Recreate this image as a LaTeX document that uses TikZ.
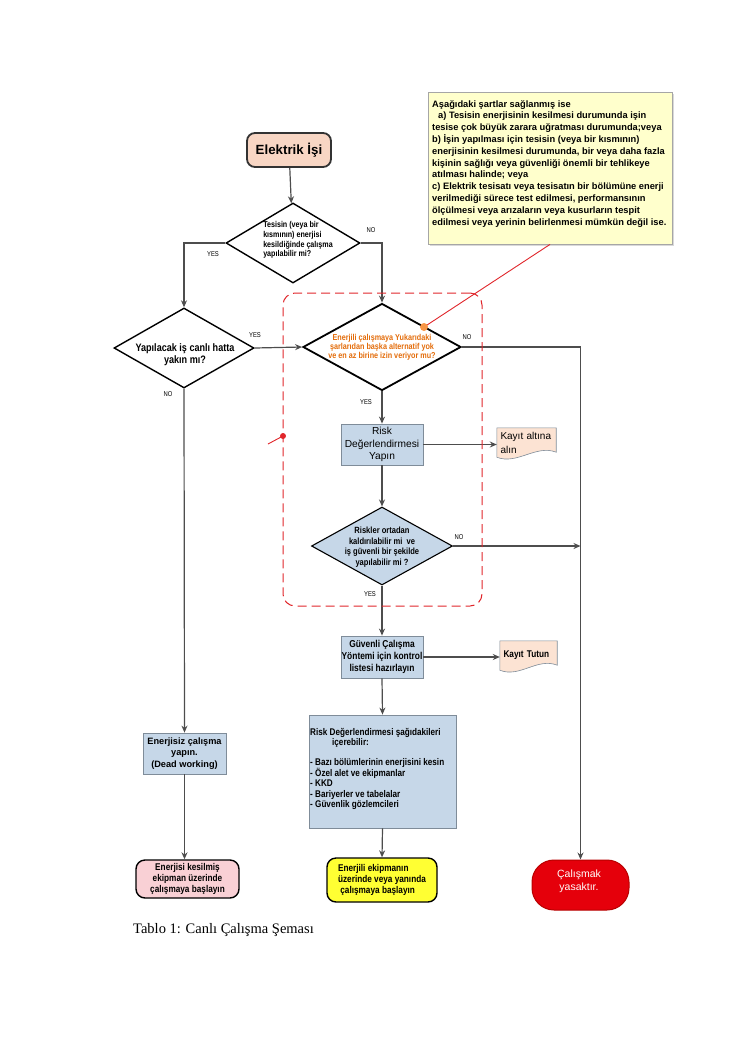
\documentclass[tikz,border=0pt]{standalone}
\usepackage{fontspec}
\setmainfont{Liberation Sans}
\newfontfamily\narrowsf[FakeStretch=0.84]{Liberation Sans}
\newfontfamily\captionfont{Liberation Serif}
\usetikzlibrary{positioning, shapes.geometric, arrows.meta, backgrounds, shadows}
\definecolor{notefill}{HTML}{FFFFCC}
\definecolor{noteline}{HTML}{A6A6A6}
\definecolor{startfill}{HTML}{F8D6C4}
\definecolor{boxblue}{HTML}{C6D7E8}
\definecolor{boxline}{HTML}{7F8C99}
\definecolor{docfill}{HTML}{FCE3D3}
\definecolor{pinkfill}{HTML}{F9D0D5}
\definecolor{yellowfill}{HTML}{FFFF33}
\definecolor{stopred}{HTML}{E5000B}
\definecolor{stopline}{HTML}{B80000}
\definecolor{askorange}{HTML}{E36C0A}
\definecolor{dotorange}{HTML}{F79646}
\definecolor{zonered}{HTML}{E0262B}
\definecolor{flowgrey}{HTML}{4D4D4D}

\begin{document}
\begin{tikzpicture}[x = 1pt, y = -1pt, >={Stealth[length = 7pt, width = 6pt]},
    flow/.style = { ->, draw = flowgrey, line width = 1.2pt },
    bluebox/.style = { draw = boxline, fill = boxblue, line width = .8pt, align = center, inner sep = 0pt },
    decision/.style = { diamond, draw = black, line width = 1.4pt, inner sep = 0pt },
    asktext/.style = { align = center, inner sep = 0pt },
    docbox/.style = { inner xsep = 3.5pt, inner ysep = 0pt, align = left },
    terminal/.style = { draw = black, line width = 1.4pt, rounded corners = 9pt, align = center, inner sep = 0pt },
    answer/.style = { font = \narrowsf\fontsize{7}{8}\selectfont }]
  \useasboundingbox (0, 0) rectangle (744, 1053);

  \node[draw = noteline, fill = notefill, line width = .8pt, minimum width = 244pt, minimum height = 152pt,
    drop shadow={shadow xshift=2pt,shadow yshift=-2pt,opacity=.3}] (note) at (550, 168) {};
  \node[anchor = north west, align = left, inner sep = 0pt, font = \bfseries\fontsize{9.3}{11.8}\selectfont] (notetext) at (432, 100) {Aşağıdaki şartlar sağlanmış ise\\
    \hspace*{6pt}a) Tesisin enerjisinin kesilmesi durumunda işin\\
    tesise çok büyük zarara uğratması durumunda;veya\\
    b) İşin yapılması için tesisin (veya bir kısmının)\\
    enerjisinin kesilmesi durumunda, bir veya daha fazla\\
    kişinin sağlığı veya güvenliği önemli bir tehlikeye\\
    atılması halinde; veya\\
    c) Elektrik tesisatı veya tesisatın bir bölümüne enerji\\
    verilmediği sürece test edilmesi, performansının\\
    ölçülmesi veya arızaların veya kusurların tespit\\
    edilmesi veya yerinin belirlenmesi mümkün değil ise.};

  \node[terminal, fill = startfill, draw = black!80, line width = 1.8pt, rounded corners = 8pt, minimum width = 84pt, minimum height = 34pt, font = \bfseries\fontsize{13.3}{15}\selectfont] (start) at (289, 150) {Elektrik İşi};

  \node[decision, minimum width = 134pt, minimum height = 80pt] (canoff) at (293, 243) {};
  \node[asktext, align = left, font = \narrowsf\bfseries\fontsize{8.5}{9.6}\selectfont] (canofftext) at (298, 240) {Tesisin (veya bir\\ kısmının) enerjisi\\ kesildiğinde çalışma\\ yapılabilir mi?};
  \node[decision, minimum width = 140pt, minimum height = 80pt] (nearlive) at (184, 348) {};
  \node[asktext, font = \narrowsf\bfseries\fontsize{10.8}{12.3}\selectfont] (nearlivetext) at (185, 355) {Yapılacak iş canlı hatta\\ yakın mı?};
  \node[decision, minimum width = 158pt, minimum height = 87pt, line width = 1.8pt] (nochoice) at (382, 347) {};
  \node[asktext, text = askorange, font = \narrowsf\bfseries\fontsize{8.6}{9.2}\selectfont] (nochoicetext) at (382, 347) {Enerjili çalışmaya Yukarıdaki\\ şarlarıdan başka alternatif yok\\ ve en az birine izin veriyor mu?};

  \node[bluebox, minimum width = 82pt, minimum height = 41pt, font = \fontsize{10.2}{12.3}\selectfont] (riskdo) at (382, 444.5) {Risk\\ Değerlendirmesi\\ Yapın};
  \node[docbox, text width = 52pt, minimum height = 29pt, font = \fontsize{10}{14}\selectfont] (keeprec) at (526.5, 442.5) {Kayıt altına\\ alın};

  \node[decision, minimum width = 141pt, minimum height = 78pt, line width = 1.1pt, fill = boxblue] (riskfree) at (382, 546) {};
  \node[asktext, font = \narrowsf\bfseries\fontsize{9}{10.6}\selectfont] (riskfreetext) at (382, 547) {Riskler ortadan\\ kaldırılabilir mi\ \ ve\\ iş güvenli bir şekilde\\ yapılabilir mi ?};

  \node[bluebox, minimum width = 82pt, minimum height = 42pt, font = \narrowsf\bfseries\fontsize{10}{11.7}\selectfont] (safeplan) at (382, 657) {Güvenli Çalışma\\ Yöntemi için kontrol\\ listesi hazırlayın};
  \node[docbox, text width = 50pt, minimum height = 29pt, font = \narrowsf\bfseries\fontsize{9.8}{11}\selectfont] (keeplog) at (528.5, 655.5) {Kayıt Tutun};

  \node[bluebox, minimum width = 83pt, minimum height = 41pt, font = \bfseries\fontsize{9.2}{11.7}\selectfont] (deadwork) at (184.5, 753.5) {Enerjisiz çalışma\\ yapın.\\ (Dead working)};

  \node[bluebox, minimum width = 147pt, minimum height = 113pt] (risklist) at (382.5, 771.5) {};
  \node[anchor = north west, align = left, inner sep = 0pt, font = \narrowsf\bfseries\fontsize{9.7}{10.6}\selectfont] (risklisttext) at (310, 728) {Risk Değerlendirmesi şağıdakileri\\
    \hspace*{22pt}içerebilir:\\[9pt]
    - Bazı bölümlerinin enerjisini kesin\\
    - Özel alet ve ekipmanlar\\
    - KKD\\
    - Bariyerler ve tabelalar\\
    - Güvenlik gözlemcileri};

  \node[terminal, fill = pinkfill, minimum width = 103pt, minimum height = 38pt, font = \narrowsf\bfseries\fontsize{9.8}{10.8}\selectfont] (offstart) at (187.5, 879) {Enerjisi kesilmiş\\ ekipman üzerinde\\ çalışmaya başlayın};
  \node[terminal, fill = yellowfill, minimum width = 110pt, minimum height = 44pt, align = left, font = \narrowsf\bfseries\fontsize{9.8}{10.8}\selectfont] (livestart) at (382, 880) {Enerjili ekipmanın\\ üzerinde veya yanında\\ \ çalışmaya başlayın};
  \node[terminal, fill = stopred, draw = stopline, line width = 1pt, rounded corners = 22pt, minimum width = 97pt, minimum height = 50pt] (stopwork) at (580.5, 885) {};
  \node[asktext, text = white, font = \fontsize{10.5}{13}\selectfont] (stopworktext) at (579, 881) {Çalışmak\\ yasaktır.};

  \begin{scope}[on background layer]
    \path[draw = boxline, fill = docfill, line width = .6pt] (keeprec.north west) -- (keeprec.north east) -- ([yshift = 5pt]keeprec.south east) .. controls +(-20pt, 8pt) and +(20pt, -8pt) .. (keeprec.south west) -- cycle;
    \path[draw = boxline, fill = docfill, line width = .6pt] (keeplog.north west) -- (keeplog.north east) -- ([yshift = 5pt]keeplog.south east) .. controls +(-20pt, 8pt) and +(20pt, -8pt) .. (keeplog.south west) -- cycle;
  \end{scope}

  \draw[flow] (start) -- (canoff);
  \draw[flow] (canoff.west) -| (nearlive.north);
  \draw[flow] (canoff.east) -| (nochoice.north);
  \draw[flow] (nearlive.east) -- (nochoice.west);
  \draw[flow] (nearlive.south) -- (deadwork.north);
  \draw[flow] (nochoice.east) -| (stopwork.north);
  \draw[flow] (nochoice.south) -- (riskdo.north);
  \draw[flow] (riskdo.east) -- (keeprec.west |- riskdo.east);
  \draw[flow] (riskdo.south) -- (riskfree.north);
  \draw[flow] (riskfree.east) -- (riskfree.east -| stopwork.north);
  \draw[flow] (riskfree.south) -- (safeplan.north);
  \draw[flow] (safeplan.east) -- (keeplog.west |- safeplan.east);
  \draw[flow] (safeplan.south) -- (risklist.north);
  \draw[flow] (deadwork.south) -- (deadwork.south |- offstart.north);
  \draw[flow] (risklist.south) -- (livestart.north);

  \node[answer] (canoffno) at (371, 230) {NO};
  \node[answer] (canoffyes) at (213, 254) {YES};
  \node[answer] (nearliveyes) at (255, 335) {YES};
  \node[answer] (nearliveno) at (168, 394) {NO};
  \node[answer] (nochoiceno) at (467, 337) {NO};
  \node[answer] (nochoiceyes) at (366, 402) {YES};
  \node[answer] (riskfreeno) at (459, 537) {NO};
  \node[answer] (riskfreeyes) at (370, 594) {YES};

  \node[draw = zonered, dash pattern = on 9pt off 5pt, line width = 1pt, rounded corners = 12pt, minimum width = 199pt, minimum height = 313pt] (livezone) at (382.5, 449.5) {};
  \coordinate (askdot) at (424, 327);
  \coordinate (zonedot) at (283, 436);
  \draw[zonered, line width = .9pt] (note.south) -- (askdot);
  \fill[dotorange] (askdot) circle (4pt);
  \draw[zonered, line width = .9pt] (zonedot) -- ++(-15, 8);
  \fill[zonered] (zonedot) circle (3pt);

  \node[anchor = base west, inner sep = 0pt, font = \captionfont\fontsize{14.5}{17}\selectfont] (caption) at (133, 933) {Tablo 1: Canlı Çalışma Şeması};
\end{tikzpicture}
\end{document}
